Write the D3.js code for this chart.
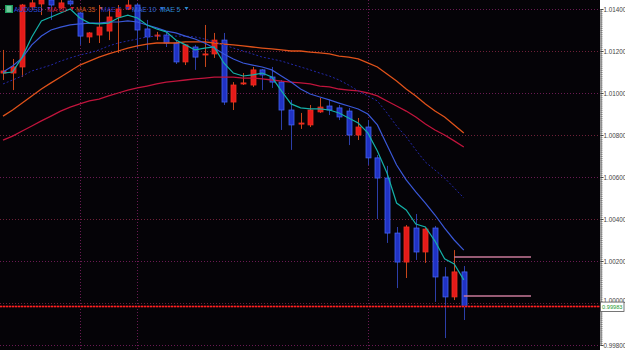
<!DOCTYPE html>
<html>
<head>
<meta charset="utf-8">
<script src="https://cdn.jsdelivr.net/npm/d3@7/dist/d3.min.js"></script>
<style>
  body { margin: 0; background: #fff; }
  svg { display: block; }
</style>
</head>
<body>
<div id="chart"></div>
<script>
// AUDUSD candles, one per bar
var candleOpen = [1.01095,1.01095,1.01124,1.01410,1.01424,1.01443,1.01405,1.01438,1.01381,1.01267,
  1.01276,1.01295,1.01362,1.01400,1.01419,1.01305,1.01271,1.01276,1.01238,1.01148,
  1.01219,1.01181,1.01186,1.01252,1.00957,1.01043,1.01038,1.01110,1.01076,1.01052,
  1.00919,1.00852,1.00848,1.00910,1.00938,1.00929,1.00914,1.00800,1.00838,1.00691,
  1.00595,1.00333,1.00195,1.00357,1.00243,1.00357,1.00124,1.00029,1.00148];
var candleHigh = [1.01205,1.01162,1.01424,1.01443,1.01452,1.01467,1.01443,1.01457,1.01386,1.01290,
  1.01419,1.01400,1.01419,1.01443,1.01429,1.01348,1.01291,1.01291,1.01252,1.01233,
  1.01229,1.01324,1.01286,1.01286,1.01052,1.01095,1.01124,1.01114,1.01124,1.01062,
  1.00967,1.00905,1.00943,1.00976,1.00967,1.00943,1.00929,1.00881,1.00871,1.00705,
  1.00653,1.00362,1.00371,1.00424,1.00357,1.00367,1.00171,1.00252,1.00176];
var candleLow = [1.01062,1.01014,1.01076,1.01395,1.01371,1.01348,1.01400,1.01414,1.01229,1.01238,
  1.01238,1.01252,1.01191,1.01395,1.01214,1.01205,1.01252,1.01219,1.01138,1.01133,
  1.01110,1.01124,1.01167,1.00943,1.00919,1.01038,1.01029,1.01014,1.01024,1.00824,
  1.00729,1.00829,1.00838,1.00905,1.00895,1.00871,1.00752,1.00776,1.00657,1.00400,
  1.00286,1.00071,1.00119,1.00205,1.00191,1.00005,0.99833,1.00014,0.99919];
var candleClose = [1.01105,1.01124,1.01419,1.01429,1.01443,1.01419,1.01429,1.01424,1.01271,1.01286,
  1.01314,1.01362,1.01400,1.01419,1.01300,1.01267,1.01276,1.01238,1.01148,1.01229,
  1.01171,1.01186,1.01252,1.00957,1.01038,1.01048,1.01110,1.01086,1.01052,1.00919,
  1.00848,1.00857,1.00919,1.00933,1.00919,1.00886,1.00800,1.00838,1.00691,1.00595,
  1.00333,1.00195,1.00362,1.00243,1.00352,1.00124,1.00029,1.00148,0.99983];

// moving averages, one value per bar
var ma60 = [1.00776,1.00795,1.00819,1.00843,1.00867,1.00890,1.00914,1.00933,1.00948,1.00962,
  1.00971,1.00986,1.01000,1.01014,1.01024,1.01033,1.01043,1.01052,1.01057,1.01062,
  1.01067,1.01071,1.01076,1.01076,1.01076,1.01071,1.01071,1.01067,1.01062,1.01057,
  1.01052,1.01048,1.01043,1.01033,1.01029,1.01019,1.01014,1.01010,1.01000,1.00986,
  1.00962,1.00938,1.00914,1.00886,1.00852,1.00824,1.00800,1.00772,1.00743];
var ma35 = [1.00890,1.00919,1.00952,1.00986,1.01019,1.01048,1.01076,1.01105,1.01133,1.01152,
  1.01171,1.01186,1.01200,1.01214,1.01224,1.01233,1.01238,1.01238,1.01238,1.01243,
  1.01243,1.01243,1.01238,1.01233,1.01229,1.01224,1.01219,1.01214,1.01210,1.01205,
  1.01200,1.01200,1.01195,1.01191,1.01186,1.01176,1.01171,1.01162,1.01143,1.01124,
  1.01090,1.01057,1.01019,1.00986,1.00948,1.00914,1.00886,1.00848,1.00810];
var mae7 = [1.01043,1.01062,1.01081,1.01105,1.01119,1.01133,1.01152,1.01167,1.01181,1.01191,
  1.01205,1.01224,1.01238,1.01248,1.01257,1.01267,1.01271,1.01271,1.01271,1.01271,
  1.01267,1.01257,1.01243,1.01229,1.01214,1.01200,1.01186,1.01171,1.01162,1.01152,
  1.01138,1.01124,1.01110,1.01095,1.01081,1.01062,1.01038,1.01010,1.00986,1.00962,
  1.00905,1.00843,1.00791,1.00729,1.00671,1.00633,1.00595,1.00548,1.00500];
var mae10 = [1.01100,1.01129,1.01167,1.01229,1.01271,1.01300,1.01314,1.01324,1.01329,1.01333,
  1.01333,1.01338,1.01338,1.01343,1.01338,1.01324,1.01310,1.01295,1.01286,1.01271,
  1.01257,1.01238,1.01214,1.01186,1.01162,1.01143,1.01133,1.01124,1.01110,1.01081,
  1.01052,1.01019,1.00995,1.00981,1.00967,1.00952,1.00938,1.00924,1.00900,1.00848,
  1.00752,1.00657,1.00586,1.00529,1.00476,1.00419,1.00357,1.00300,1.00252];
var mae5 = [1.01095,1.01100,1.01171,1.01267,1.01343,1.01362,1.01381,1.01400,1.01357,1.01333,
  1.01329,1.01333,1.01357,1.01371,1.01357,1.01324,1.01305,1.01291,1.01252,1.01229,
  1.01205,1.01214,1.01219,1.01143,1.01095,1.01081,1.01086,1.01095,1.01076,1.01010,
  1.00948,1.00929,1.00924,1.00924,1.00919,1.00905,1.00881,1.00857,1.00810,1.00724,
  1.00619,1.00476,1.00443,1.00376,1.00362,1.00295,1.00210,1.00186,1.00110];

var priceTicks = [1.014, 1.012, 1.010, 1.008, 1.006, 1.004, 1.002, 1.000, 0.998];
var lastPrice = 0.99983;
var dayBreaks = [8, 14, 38];
var levelPrice = [1.00219, 1.00033];
var levelFrom = [47, 48];
var levelTo = [55, 55];
var legendNames = ["AUDUSD", "MA 60", "MA 35", "MAE 7", "MAE 10", "MAE 5"];

function renderChart() {
  var width = 625,
      height = 350,
      plotW = 600;

  var x = d3.scaleLinear()
    .domain([0, 62])
    .range([3, 598.2]);

  var y = d3.scaleLinear()
    .domain([0.998, 1.014])
    .range([345, 9]);

  var svg = d3.select("#chart").append("svg")
    .attr("width", width)
    .attr("height", height);

  svg.append("clipPath")
    .attr("id", "plot-clip")
    .append("rect")
    .attr("width", plotW)
    .attr("height", height);

  svg.append("rect")
    .attr("width", plotW)
    .attr("height", height)
    .attr("fill", "#050307");

  var plot = svg.append("g")
    .attr("clip-path", "url(#plot-clip)");

  // grid
  plot.selectAll(".hgrid")
    .data(priceTicks)
    .enter().append("line")
    .attr("x1", 0)
    .attr("x2", plotW)
    .attr("y1", function(d) { return Math.round(y(d)) + 0.5; })
    .attr("y2", function(d) { return Math.round(y(d)) + 0.5; })
    .attr("stroke", function(d, i) { return i % 2 ? "#6e2038" : "#6a1a52"; })
    .attr("stroke-dasharray", "1,2");

  plot.selectAll(".vgrid")
    .data(dayBreaks)
    .enter().append("line")
    .attr("x1", function(d) { return Math.round(x(d)) + 0.5; })
    .attr("x2", function(d) { return Math.round(x(d)) + 0.5; })
    .attr("y1", 0)
    .attr("y2", height)
    .attr("stroke", "#6a1a52")
    .attr("stroke-dasharray", "1,2");

  var series = [
    { values: ma60, color: "#c0143c", dash: null, w: 1.3 },
    { values: ma35, color: "#e0521a", dash: null, w: 1.3 },
    { values: mae7, color: "#2228a8", dash: "2,2", w: 1 },
    { values: mae10, color: "#3a58d8", dash: null, w: 1.2 },
    { values: mae5, color: "#14b0a8", dash: null, w: 1.2 }
  ];

  var valueline = d3.line()
    .x(function(d, i) { return x(i); })
    .y(function(d) { return y(d); });

  // candles
  var idx = d3.range(candleOpen.length);
  function up(i) { return candleClose[i] >= candleOpen[i]; }

  plot.selectAll(".wick")
    .data(idx)
    .enter().append("line")
    .attr("class", "wick")
    .attr("x1", function(i) { return Math.round(x(i)) + 0.5; })
    .attr("x2", function(i) { return Math.round(x(i)) + 0.5; })
    .attr("y1", function(i) { return y(candleHigh[i]); })
    .attr("y2", function(i) { return y(candleLow[i]); })
    .attr("stroke", function(i) { return up(i) ? "#c8461a" : "#2c3ea8"; })
    .attr("stroke-width", 1);

  plot.selectAll(".body")
    .data(idx)
    .enter().append("rect")
    .attr("class", "body")
    .attr("x", function(i) { return Math.round(x(i)) - 2; })
    .attr("width", 5)
    .attr("y", function(i) { return y(Math.max(candleOpen[i], candleClose[i])); })
    .attr("height", function(i) {
      return Math.max(1, Math.abs(y(candleOpen[i]) - y(candleClose[i])));
    })
    .attr("fill", function(i) { return up(i) ? "#e41a1a" : "#2032c4"; })
    .attr("stroke", function(i) { return up(i) ? "#f03020" : "#4464f0"; })
    .attr("stroke-width", 0.8);

  series.forEach(function(s) {
    plot.append("path")
      .datum(s.values)
      .attr("fill", "none")
      .attr("stroke", s.color)
      .attr("stroke-width", s.w)
      .attr("stroke-dasharray", s.dash)
      .attr("d", valueline);
  });

  // session levels
  plot.selectAll(".level")
    .data(levelPrice)
    .enter().append("line")
    .attr("x1", function(d, i) { return x(levelFrom[i]); })
    .attr("x2", function(d, i) { return x(levelTo[i]); })
    .attr("y1", function(d) { return y(d); })
    .attr("y2", function(d) { return y(d); })
    .attr("stroke", "#c87a9a")
    .attr("stroke-width", 1.5);

  // last price line
  plot.append("line")
    .attr("x1", 0)
    .attr("x2", plotW)
    .attr("y1", y(lastPrice))
    .attr("y2", y(lastPrice))
    .attr("stroke", "#7a0a10")
    .attr("stroke-width", 1.5);
  plot.append("line")
    .attr("x1", 0)
    .attr("x2", plotW)
    .attr("y1", y(lastPrice))
    .attr("y2", y(lastPrice))
    .attr("stroke", "#ff2020")
    .attr("stroke-width", 1.5)
    .attr("stroke-dasharray", "2,1");

  // price axis
  svg.append("rect")
    .attr("x", plotW)
    .attr("width", width - plotW)
    .attr("height", height)
    .attr("fill", "#fff");

  var minorAxis = d3.axisRight(y)
    .ticks(160)
    .tickSize(2)
    .tickFormat("");

  svg.append("g")
    .attr("class", "y axis minor")
    .attr("transform", "translate(" + (plotW + 0.5) + ",0)")
    .call(minorAxis)
    .call(function(g) {
      g.selectAll("line").attr("stroke", "#777");
      g.select(".domain").attr("stroke", "#555");
    });

  var yAxis = d3.axisRight(y)
    .tickValues(priceTicks)
    .tickSize(3)
    .tickFormat(d3.format(".5f"));

  svg.append("g")
    .attr("class", "y axis")
    .attr("transform", "translate(" + (plotW + 0.5) + ",0)")
    .call(yAxis)
    .call(function(g) {
      g.select(".domain").remove();
      g.selectAll("line").attr("stroke", "#444");
      g.selectAll("text")
        .attr("x", 3)
        .attr("dy", function(d) { return d === 1.000 ? "-0.1em" : "0.32em"; })
        .style("font-family", "Liberation Sans, Arial, sans-serif")
        .style("font-size", "6.3px")
        .attr("fill", "#444");
    });

  // last price box
  svg.append("rect")
    .attr("x", plotW + 0.5)
    .attr("y", y(lastPrice) - 4.5)
    .attr("width", 23.5)
    .attr("height", 9.5)
    .attr("fill", "#fff")
    .attr("stroke", "#555")
    .attr("stroke-width", 0.8);
  svg.append("text")
    .attr("x", plotW + 2)
    .attr("y", y(lastPrice) + 2.2)
    .attr("textLength", 20.5)
    .attr("lengthAdjust", "spacingAndGlyphs")
    .style("font-family", "Liberation Sans, Arial, sans-serif")
    .style("font-size", "6.2px")
    .attr("fill", "#1c9a2c")
    .text(d3.format(".5f")(lastPrice));

  // legend
  var legendX = [14, 47, 76, 101, 132, 160];
  var legendColor = ["#2a48d8", "#d0203a", "#c85818", "#2a36b8", "#3468d8", "#2a8ad0"];

  var icon = svg.append("g").attr("transform", "translate(5,5)");
  icon.append("rect")
    .attr("width", 8)
    .attr("height", 8)
    .attr("fill", "#1fa060");
  [2, 4, 6].forEach(function(v) {
    icon.append("line")
      .attr("x1", 1.5).attr("x2", 6.5)
      .attr("y1", v).attr("y2", v)
      .attr("stroke", "#e8fff0")
      .attr("stroke-width", 0.8);
  });

  var legend = svg.selectAll(".legend")
    .data(legendNames)
    .enter().append("g")
    .attr("class", "legend")
    .attr("transform", function(d, i) { return "translate(" + legendX[i] + ",11.5)"; });

  legend.append("text")
    .style("font-family", "Liberation Sans, Arial, sans-serif")
    .style("font-size", "6.8px")
    .attr("fill", function(d, i) { return legendColor[i]; })
    .text(function(d) { return d; });

  legend.append("path")
    .attr("transform", function(d) {
      return "translate(" + (this.parentNode.firstChild.getComputedTextLength() + 4) + ",-4.5)";
    })
    .attr("d", "M0,0L4,0L2,3Z")
    .attr("fill", function(d, i) { return legendColor[i]; });
}

renderChart();
</script>
</body>
</html>
